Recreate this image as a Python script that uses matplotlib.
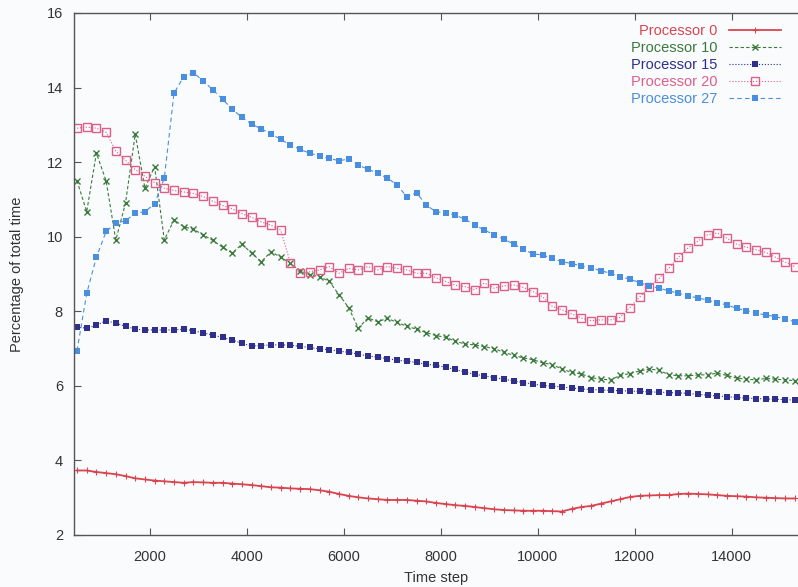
import matplotlib.pyplot as plt
import numpy as np

plt.rcParams['font.family'] = ['Liberation Sans', 'DejaVu Sans']

# time steps sampled every 200 steps
steps = np.arange(500, 15301, 200)

proc0 = [3.73, 3.73, 3.69, 3.66, 3.63, 3.58, 3.52, 3.49, 3.46, 3.44,
         3.42, 3.40, 3.42, 3.41, 3.40, 3.40, 3.38, 3.36, 3.34, 3.31,
         3.28, 3.27, 3.25, 3.24, 3.23, 3.20, 3.16, 3.10, 3.05, 3.01,
         2.98, 2.96, 2.94, 2.94, 2.94, 2.92, 2.90, 2.86, 2.83, 2.80,
         2.78, 2.75, 2.72, 2.69, 2.67, 2.66, 2.65, 2.65, 2.65, 2.64,
         2.63, 2.70, 2.75, 2.78, 2.84, 2.90, 2.96, 3.02, 3.05, 3.06,
         3.07, 3.07, 3.10, 3.11, 3.10, 3.09, 3.07, 3.05, 3.04, 3.03,
         3.01, 3.00, 2.99, 2.98, 2.98]

proc10 = [11.50, 10.67, 12.24, 11.50, 9.91, 10.90, 12.75, 11.30, 11.88, 9.91,
          10.45, 10.27, 10.20, 10.05, 9.90, 9.72, 9.56, 9.80, 9.56, 9.33,
          9.60, 9.45, 9.29, 9.08, 8.98, 8.93, 8.80, 8.45, 8.10, 7.55,
          7.82, 7.72, 7.81, 7.70, 7.60, 7.52, 7.43, 7.35, 7.30, 7.20,
          7.12, 7.10, 7.05, 7.00, 6.90, 6.82, 6.75, 6.70, 6.62, 6.57,
          6.45, 6.36, 6.32, 6.22, 6.18, 6.16, 6.28, 6.33, 6.40, 6.45,
          6.42, 6.30, 6.27, 6.27, 6.29, 6.30, 6.34, 6.28, 6.21, 6.18,
          6.16, 6.20, 6.18, 6.16, 6.14]

proc15 = [7.57, 7.55, 7.62, 7.75, 7.68, 7.60, 7.52, 7.50, 7.50, 7.50,
          7.50, 7.52, 7.48, 7.42, 7.36, 7.30, 7.23, 7.14, 7.07, 7.08,
          7.10, 7.10, 7.09, 7.06, 7.03, 6.99, 6.97, 6.93, 6.90, 6.85,
          6.80, 6.77, 6.73, 6.69, 6.66, 6.63, 6.58, 6.55, 6.50, 6.44,
          6.37, 6.31, 6.27, 6.22, 6.18, 6.13, 6.09, 6.05, 6.01, 5.99,
          5.97, 5.94, 5.92, 5.90, 5.89, 5.88, 5.87, 5.86, 5.85, 5.84,
          5.83, 5.82, 5.81, 5.80, 5.77, 5.75, 5.73, 5.71, 5.69, 5.67,
          5.66, 5.65, 5.64, 5.63, 5.62]

proc20 = [12.91, 12.94, 12.91, 12.80, 12.30, 12.05, 11.80, 11.62, 11.45, 11.30,
          11.24, 11.20, 11.16, 11.08, 10.95, 10.84, 10.75, 10.62, 10.52, 10.40,
          10.31, 10.18, 9.30, 9.02, 9.06, 9.11, 9.20, 9.02, 9.15, 9.11,
          9.20, 9.11, 9.20, 9.15, 9.11, 9.02, 9.02, 8.90, 8.80, 8.70,
          8.66, 8.58, 8.76, 8.62, 8.68, 8.71, 8.64, 8.53, 8.39, 8.13,
          8.04, 7.93, 7.82, 7.75, 7.77, 7.77, 7.84, 8.10, 8.38, 8.64,
          8.88, 9.15, 9.45, 9.70, 9.88, 10.05, 10.10, 9.96, 9.80, 9.72,
          9.65, 9.58, 9.45, 9.32, 9.20]

proc27 = [6.94, 8.48, 9.45, 10.14, 10.36, 10.43, 10.63, 10.67, 10.88, 11.57,
          13.85, 14.29, 14.40, 14.18, 13.94, 13.69, 13.42, 13.20, 13.02, 12.89,
          12.76, 12.61, 12.46, 12.34, 12.24, 12.17, 12.10, 12.04, 12.08, 11.92,
          11.81, 11.70, 11.57, 11.39, 11.07, 11.18, 10.85, 10.67, 10.64, 10.58,
          10.47, 10.31, 10.18, 10.05, 9.93, 9.81, 9.66, 9.54, 9.51, 9.42,
          9.33, 9.28, 9.22, 9.16, 9.09, 9.02, 8.93, 8.86, 8.77, 8.68,
          8.62, 8.55, 8.48, 8.41, 8.36, 8.30, 8.23, 8.17, 8.08, 8.02,
          7.95, 7.90, 7.86, 7.79, 7.72]

bg = '#f9fbfd'
fig = plt.figure(figsize=(7.98, 5.87), dpi=100, facecolor=bg)
ax = fig.add_axes([74 / 798, 52 / 587, 724 / 798, 522 / 587], facecolor=bg)

ax.plot(steps, proc0, color='#d8454f', lw=1.3, ls='-', marker='+',
        ms=5, mew=0.8, label='Processor 0')
ax.plot(steps, proc10, color='#3b7a3b', lw=0.8, ls=(0, (3, 2)), marker='x',
        ms=5, mew=1.0, label='Processor 10')
ax.plot(steps, proc15, color='#2f2f8c', lw=0.8, ls=':', marker='s',
        ms=4, mew=0, label='Processor 15')
ax.plot(steps, proc20, color='#dd5f85', lw=0.8, ls=':', marker='s',
        ms=5.5, mfc='none', mew=1.0, label='Processor 20')
ax.plot(steps, proc27, color='#4a8ee0', lw=0.8, ls=(0, (4, 3)), marker='s',
        ms=4.8, mew=0, label='Processor 27')

ax.set_xlim(438, 15366)
ax.set_ylim(2, 16)
ax.set_xticks(range(2000, 15000, 2000))
ax.set_yticks(range(2, 17, 2))

for side in ['left', 'bottom', 'top']:
    ax.spines[side].set_color('#555555')
    ax.spines[side].set_linewidth(1.0)
ax.spines['right'].set_visible(False)

ax.tick_params(direction='in', top=True, right=False, length=5,
               width=0.8, color='#555555', labelsize=10.5,
               labelcolor='#333333')
ax.tick_params(axis='x', pad=11)
ax.tick_params(axis='y', pad=8)

ax.set_xlabel('Time step', fontsize=10.5, color='#333333', labelpad=5)
ax.set_ylabel('Percentage of total time', fontsize=10.5, color='#333333',
              labelpad=16)

leg = ax.legend(loc='upper right', bbox_to_anchor=(0.985, 0.99),
                borderaxespad=0, frameon=False, markerfirst=False,
                fontsize=10.5, handlelength=3.6, handletextpad=0.8,
                labelspacing=0.2)
for line, text in zip(leg.get_lines(), leg.get_texts()):
    text.set_color(line.get_color())

fig.savefig('out.png', dpi=100, facecolor=bg)
